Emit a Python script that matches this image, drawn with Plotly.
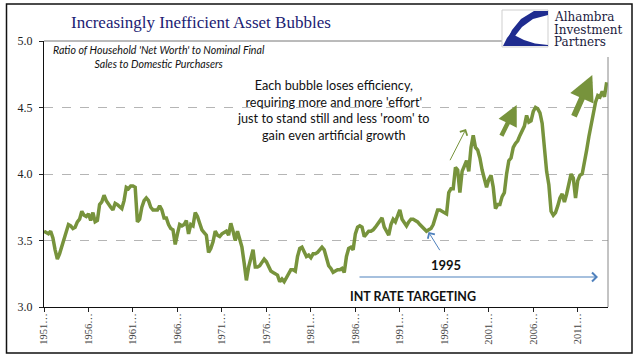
import plotly.graph_objects as go

# ---------------- data (quarterly, starting 1951 Q4) ----------------
start_year = 1951.75
ratio = [
    3.57,
    3.56, 3.55, 3.57, 3.52,
    3.43, 3.36, 3.40, 3.45,
    3.51, 3.57, 3.62, 3.61,
    3.59, 3.60, 3.64, 3.66,
    3.72, 3.69, 3.68, 3.70,
    3.65, 3.71, 3.64, 3.65,
    3.77, 3.79, 3.84, 3.80,
    3.77, 3.75, 3.73, 3.78,
    3.77, 3.75, 3.74, 3.80,
    3.90, 3.89, 3.91, 3.91,
    3.90, 3.64, 3.66, 3.75,
    3.80, 3.82, 3.80, 3.75,
    3.73, 3.73, 3.73, 3.76,
    3.73, 3.67, 3.67, 3.62,
    3.59, 3.58, 3.47, 3.55,
    3.62, 3.61, 3.62, 3.65,
    3.55, 3.62, 3.61, 3.71,
    3.68, 3.63, 3.58, 3.56,
    3.54, 3.41, 3.44, 3.49,
    3.57, 3.54, 3.53, 3.55,
    3.56, 3.57, 3.54, 3.63,
    3.57, 3.50, 3.57, 3.51,
    3.45, 3.33, 3.20, 3.30,
    3.36, 3.43, 3.30, 3.30,
    3.31, 3.34, 3.36, 3.34,
    3.30, 3.27, 3.26, 3.25,
    3.24, 3.19, 3.21, 3.19,
    3.22, 3.25, 3.28, 3.28,
    3.27, 3.38, 3.44, 3.45,
    3.42, 3.38, 3.39, 3.37,
    3.40, 3.40, 3.41, 3.43,
    3.45, 3.43, 3.36, 3.31,
    3.29, 3.26, 3.27, 3.28,
    3.28, 3.29, 3.26, 3.38,
    3.44, 3.45, 3.43, 3.55,
    3.60, 3.61, 3.60, 3.53,
    3.55, 3.57, 3.57, 3.58,
    3.60, 3.62, 3.64, 3.67,
    3.60, 3.57, 3.54, 3.62,
    3.66, 3.64, 3.68, 3.73,
    3.66, 3.63, 3.61, 3.64,
    3.66, 3.66, 3.65, 3.64,
    3.62, 3.60, 3.58, 3.57,
    3.58, 3.59, 3.62, 3.68,
    3.73, 3.73, 3.72, 3.71,
    3.70, 3.86, 3.89, 3.89,
    4.05, 4.03, 3.86, 4.02,
    4.06, 4.10, 4.02, 4.20,
    4.29, 4.20, 4.18, 4.12,
    4.03, 3.95, 3.90, 3.96,
    3.99, 3.90, 3.74, 3.77,
    3.77, 3.83, 3.86, 4.00,
    4.10, 4.12, 4.20, 4.23,
    4.25, 4.29, 4.33, 4.36,
    4.44, 4.39, 4.40, 4.47,
    4.50, 4.49, 4.46, 4.38,
    4.20, 4.02, 3.92, 3.72,
    3.69, 3.71, 3.76, 3.82,
    3.85, 3.79, 3.85, 3.92,
    4.00, 3.97, 3.82, 3.95,
    3.99, 4.00, 4.08, 4.18,
    4.28, 4.37, 4.46, 4.54,
    4.59, 4.58, 4.62, 4.58,
    4.69,
]
x_dates = [start_year + 0.25 * i for i in range(len(ratio))]

tick_years = [1951, 1956, 1961, 1966, 1971, 1976, 1981, 1986, 1991, 1996, 2001, 2006, 2011]
tick_vals = [y + 0.75 for y in tick_years]
tick_text = [f"{y}\u2026" for y in tick_years]

y_ticks = [3.0, 3.5, 4.0, 4.5, 5.0]

title_text = "Increasingly Inefficient Asset Bubbles"
subtitle_text = "Ratio of Household 'Net Worth' to Nominal Final<br>Sales to Domestic Purchasers"
note_text = ("Each bubble loses efficiency,<br>requiring more and more 'effort'<br>"
             "just to stand still and less 'room' to<br>gain even artificial growth")
logo_lines = ["Alhambra", "Investment", "Partners"]

# ---------------- layout helpers ----------------
W, H = 641, 358
L, R, T, B = 44, 608, 41, 307


def px(x):
    return (x - L) / (R - L)


def py(y):
    return (B - y) / (B - T)


GREEN = "#77933C"
BLUE = "#4F81BD"
NAVY = "#1B2173"
SERIF = "Liberation Serif, Times New Roman, serif"
SANS = "Lato, Open Sans, sans-serif"

fig = go.Figure()
fig.add_trace(go.Scatter(x=x_dates, y=ratio, mode="lines",
                         line=dict(color=GREEN, width=3.5), hoverinfo="skip",
                         showlegend=False))

annotations = []
# title
annotations.append(dict(text=title_text, x=px(201), y=py(22), xref="paper", yref="paper",
                        xanchor="center", yanchor="middle", showarrow=False,
                        font=dict(family=SERIF, size=17, color=NAVY)))
# subtitle
annotations.append(dict(text="<i>" + subtitle_text + "</i>", x=px(159), y=py(56.5), xref="paper",
                        yref="paper", xanchor="center", yanchor="middle", showarrow=False,
                        align="center", font=dict(family=SANS, size=10.6, color="#111")))
# note
annotations.append(dict(text=note_text, x=px(333), y=py(110), xref="paper", yref="paper",
                        xanchor="center", yanchor="middle", showarrow=False, align="center",
                        font=dict(family=SANS, size=12.7, color="#111")))
annotations.append(dict(text="<b>1995</b>", x=px(446), y=py(265), xref="paper", yref="paper",
                        xanchor="center", yanchor="middle", showarrow=False,
                        font=dict(family=SANS, size=13, color="#111")))
annotations.append(dict(text="<b>INT RATE TARGETING</b>", x=px(413), y=py(296), xref="paper",
                        yref="paper", xanchor="center", yanchor="middle", showarrow=False,
                        font=dict(family=SANS, size=12.5, color="#111")))


def arrow(tip, tail, color, width, head, size):
    return dict(text="", x=px(tip[0]), y=py(tip[1]), xref="paper", yref="paper",
                ax=tail[0] - tip[0], ay=tail[1] - tip[1], showarrow=True,
                arrowcolor=color, arrowwidth=width, arrowhead=head, arrowsize=size)


annotations.append(arrow((598, 277), (358, 277), BLUE, 1.1, 4, 1.6))
annotations.append(arrow((428.5, 232), (440.7, 251.7), BLUE, 1.0, 4, 1.6))
annotations.append(arrow((466, 129), (449.3, 161.7), GREEN, 1.0, 4, 1.6))
annotations.append(arrow((516.7, 105), (500.7, 137.3), GREEN, 4.5, 2, 0.9))
annotations.append(arrow((592.3, 75), (573.3, 117.7), GREEN, 6, 2, 0.85))

# logo text
for i, t in enumerate(logo_lines):
    annotations.append(dict(text=t, x=px(552), y=py(16.7 + 12.9 * i), xref="paper", yref="paper",
                            xanchor="left", yanchor="middle", showarrow=False,
                            font=dict(family="DejaVu Serif, serif", size=12, color="#1a1a40")))

shapes = [
    # outer frame
    dict(type="rect", xref="paper", yref="paper", x0=px(6.5), x1=px(632), y0=py(4), y1=py(353),
         line=dict(color="#111", width=1.5), fillcolor="rgba(0,0,0,0)", layer="above"),
    # top border of plot area
    dict(type="line", xref="paper", yref="paper", x0=0, x1=px(502), y0=1, y1=1,
         line=dict(color="#777", width=1), layer="above"),
    # right border of plot area
    dict(type="line", xref="paper", yref="paper", x0=1, x1=1, y0=0, y1=py(57),
         line=dict(color="#888", width=1), layer="above"),
    # logo box
    dict(type="rect", xref="paper", yref="paper", x0=px(502), x1=px(548), y0=py(10), y1=py(47),
         line=dict(color="#cfcfcf", width=1), fillcolor="white", layer="above"),
]


def ppath(points):
    s = "M " + " L ".join(f"{px(a):.5f},{py(b):.5f}" for a, b in points) + " Z"
    return s


# logo emblem (approximate)
shapes.append(dict(type="path", xref="paper", yref="paper", layer="above",
                   path=ppath([(548, 11), (534, 11), (521, 19), (512, 30), (509, 36),
                               (515, 36), (522, 27), (533, 19), (548, 15)]),
                   fillcolor="#1F2C8F", line=dict(width=0)))
shapes.append(dict(type="path", xref="paper", yref="paper", layer="above",
                   path=ppath([(503, 46), (548, 46), (548, 45), (535, 43.5), (524, 40),
                               (516, 36), (511, 33), (507, 38)]),
                   fillcolor="#1F2C8F", line=dict(width=0)))

fig.update_layout(
    width=W, height=H,
    margin=dict(l=L, r=W - R, t=T, b=H - B, pad=0),
    paper_bgcolor="white", plot_bgcolor="white",
    showlegend=False,
    annotations=annotations,
    shapes=shapes,
    xaxis=dict(range=[start_year, 2015.15], tickmode="array", tickvals=tick_vals,
               ticktext=tick_text, tickangle=-90, ticks="outside", ticklen=4,
               tickcolor="#222", showline=True, linecolor="#111", linewidth=1,
               showgrid=False, zeroline=False, automargin=False, ticklabelstandoff=-3,
               tickfont=dict(family=SERIF, size=10.5, color="#444")),
    yaxis=dict(range=[3, 5], tickmode="array", tickvals=y_ticks,
               ticktext=[f"{v:.1f}" for v in y_ticks], ticks="outside", ticklen=4,
               tickcolor="#222", showline=True, linecolor="#111", linewidth=1,
               showgrid=True, gridcolor="#b5b5b5", griddash="dash", gridwidth=1,
               zeroline=False, ticklabelstandoff=4, automargin=False,
               tickfont=dict(family=SERIF, size=12, color="#222")),
)

fig.write_html("out.html", config={"displayModeBar": False},
               post_script="document.body.style.margin='0';document.body.style.overflow='hidden';")
